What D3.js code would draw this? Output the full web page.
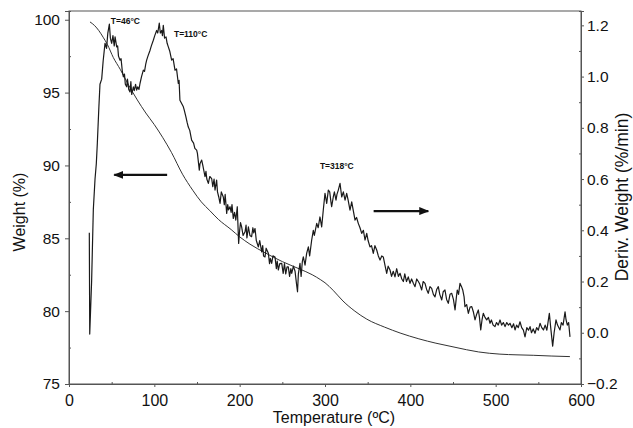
<!DOCTYPE html>
<html lang="en">
<head>
<meta charset="utf-8">
<script src="https://d3js.org/d3.v7.min.js"></script>
<style type="text/css">
body{
  margin: 0;
  padding: 0;
  background: white;
}
svg text{
  font-family: "Liberation Sans", Arial, sans-serif;
  fill: #111;
}
.tick-label{
  font-size: 15.5px;
}
.axis-title{
  font-size: 16px;
}
.note{
  font-size: 8.5px;
  font-weight: bold;
}
</style>
</head>
<body>
<div id="chart"></div>

<script type="text/javascript">

// Weight curve (TGA) : [temperature, weight %]
var tga = [
  [24.6, 99.85], [30, 99.6], [35, 99.25], [40, 98.8], [45, 98.3], [52, 97.4],
  [60, 96.6], [70, 95.5], [80, 94.5], [90, 93.6], [100, 92.8], [110, 91.9],
  [120, 90.9], [133, 89.4], [145, 88.3], [155, 87.5], [165, 86.9], [175, 86.3],
  [190, 85.6], [200, 85.1], [212, 84.6], [230, 84.0], [250, 83.4], [270, 82.9],
  [285, 82.5], [295, 82.15], [300, 81.95], [310, 81.4], [321, 80.7], [335, 80.0],
  [349, 79.45], [370, 78.9], [388, 78.5], [410, 78.1], [430, 77.8], [450, 77.55],
  [466, 77.35], [480, 77.2], [505, 77.05], [525, 77.0], [544, 76.97], [565, 76.92],
  [587, 76.88]
];

// Derivative weight curve (DTG) : [temperature, %/min]
var dtg = [
  [23.8, 0.39], [24.3, -0.005], [26.5, 0.20], [28.5, 0.48], [30.5, 0.60], [32, 0.66],
  [33.2, 0.74], [35, 0.88], [36.3, 0.97], [38.3, 0.99], [40, 1.06], [42.2, 1.13],
  [44, 1.11], [45.5, 1.17], [47.3, 1.205], [48.5, 1.15], [50, 1.13], [51.5, 1.16],
  [53, 1.12], [54, 1.155], [55.9, 1.116], [57, 1.12], [58, 1.08], [59.8, 1.064],
  [61, 1.07], [62.5, 1.02], [63.7, 0.999], [65, 1.01], [66, 0.97], [67.6, 0.96],
  [68.5, 0.99], [70, 0.95], [71.5, 0.94], [72.5, 0.98], [73.5, 0.93], [75.4, 0.96],
  [76.5, 0.945], [78, 0.97], [79.3, 0.947], [80.5, 0.96], [82, 0.95], [83.2, 0.973],
  [85, 1.00], [87.1, 1.025], [88.5, 1.02], [90, 1.05], [91, 1.064], [92.5, 1.08],
  [95, 1.103], [96.5, 1.12], [98.8, 1.142], [100.5, 1.16], [102.7, 1.18], [104, 1.17],
  [105.8, 1.209], [107, 1.17], [108.6, 1.18], [109.5, 1.16], [110.5, 1.2], [112, 1.15],
  [113.7, 1.155], [115, 1.13], [116.4, 1.116], [118, 1.10], [120.3, 1.064], [122, 1.07],
  [124.2, 1.025], [126, 1.03], [128.1, 0.973], [129, 0.985], [130, 0.908], [132, 0.895],
  [134, 0.882], [135, 0.87], [137, 0.843], [138.5, 0.82], [139.8, 0.803], [141.5, 0.79],
  [143.7, 0.752], [146, 0.74], [147.5, 0.72], [149.6, 0.713], [150.5, 0.70], [152.7, 0.635],
  [153.5, 0.66], [155.5, 0.674], [157, 0.65], [159.4, 0.609], [160.5, 0.63], [161.5, 0.60],
  [163.3, 0.583], [165, 0.61], [167.2, 0.602], [168.5, 0.57], [170, 0.60], [171.1, 0.557],
  [173, 0.596], [174, 0.55], [175.5, 0.53], [177, 0.505], [178.5, 0.55], [180.8, 0.53],
  [182, 0.50], [183, 0.54], [184.8, 0.466], [186, 0.50], [187, 0.48], [188.7, 0.492],
  [190, 0.47], [191, 0.50], [192.5, 0.446], [194, 0.47], [195.5, 0.44], [197.2, 0.492],
  [198.8, 0.349], [200, 0.40], [201, 0.43], [202.3, 0.413], [204, 0.38], [206.3, 0.394],
  [207.5, 0.42], [208.5, 0.37], [210.2, 0.413], [212, 0.38], [214, 0.375], [215.5, 0.41],
  [216.5, 0.39], [218, 0.407], [219.5, 0.36], [221.9, 0.335], [223.5, 0.36], [225.8, 0.316],
  [227, 0.34], [228, 0.30], [229.7, 0.296], [231, 0.33], [233.6, 0.31], [235, 0.27],
  [236, 0.29], [237.5, 0.271], [239, 0.30], [241.4, 0.296], [243, 0.25], [244, 0.28],
  [245.3, 0.245], [247, 0.27], [249.3, 0.271], [251, 0.232], [252.5, 0.27], [254, 0.23],
  [255.5, 0.257], [257, 0.257], [258.5, 0.22], [260, 0.25], [261, 0.232], [263, 0.26],
  [264.9, 0.24], [266.8, 0.186], [267.8, 0.16], [268.8, 0.23], [270.7, 0.271], [272, 0.22],
  [273.5, 0.28], [274.6, 0.296], [276.6, 0.264], [278.5, 0.31], [280.5, 0.335], [282, 0.30],
  [284.4, 0.362], [286.3, 0.40], [287.5, 0.38], [290.3, 0.427], [292, 0.41], [294.1, 0.452],
  [296.1, 0.413], [298, 0.479], [300, 0.544], [302, 0.505], [303.9, 0.557], [305.5, 0.55],
  [307, 0.51], [307.8, 0.492], [309.7, 0.53], [311, 0.55], [312.9, 0.518], [314, 0.54],
  [315.6, 0.557], [317.6, 0.583], [319.6, 0.53], [321.5, 0.55], [323.5, 0.518], [325.4, 0.544],
  [327, 0.52], [329.3, 0.479], [331.3, 0.511], [333, 0.48], [335.2, 0.44], [337, 0.45],
  [339, 0.427], [341, 0.41], [343, 0.388], [345, 0.40], [346.9, 0.362], [348.9, 0.388],
  [350.5, 0.36], [352.7, 0.335], [354.5, 0.34], [356.6, 0.31], [358.5, 0.34], [360.6, 0.323],
  [362.5, 0.30], [364.5, 0.284], [366.5, 0.30], [368.3, 0.296], [370.5, 0.26], [372.3, 0.232],
  [374, 0.26], [376.2, 0.245], [378, 0.22], [380, 0.24], [382, 0.218], [384, 0.25],
  [386, 0.22], [388, 0.232], [390, 0.21], [391.8, 0.2], [393.5, 0.23], [395.5, 0.20],
  [397.6, 0.218], [399.6, 0.193], [401.5, 0.21], [403.5, 0.193], [405.5, 0.18], [407.5, 0.21],
  [409.4, 0.2], [411, 0.19], [413.3, 0.167], [415, 0.20], [417.2, 0.193], [419, 0.17],
  [421, 0.154], [423, 0.18], [425, 0.173], [427, 0.15], [428.9, 0.14], [431, 0.17],
  [432.8, 0.18], [434.5, 0.15], [436.8, 0.128], [438.5, 0.16], [440.6, 0.167], [442.5, 0.13],
  [444.5, 0.115], [446.5, 0.15], [448.5, 0.154], [450.5, 0.13], [452.4, 0.089], [454, 0.14],
  [455, 0.167], [456.5, 0.15], [458.2, 0.193], [460, 0.18], [461.4, 0.167], [463, 0.14],
  [464, 0.102], [466, 0.11], [468, 0.076], [470, 0.10], [472, 0.102], [474, 0.08],
  [475.8, 0.05], [477.5, 0.07], [479.7, 0.089], [481, 0.06], [482.5, 0.011], [484, 0.05],
  [485.5, 0.076], [487.5, 0.06], [489.5, 0.05], [491.5, 0.06], [493.4, 0.037], [495, 0.05],
  [497, 0.03], [499.2, 0.024], [501, 0.04], [503, 0.03], [505.1, 0.05], [507, 0.03],
  [509, 0.04], [511, 0.024], [513, 0.04], [515, 0.03], [516.8, 0.037], [519, 0.02],
  [521, 0.035], [522.7, 0.011], [524.5, 0.03], [526.5, 0.02], [528.5, 0.043], [530.5, 0.02],
  [532.5, 0.01], [534.4, -0.016], [536.5, 0.02], [538.5, 0.01], [540.3, 0.024], [542, 0.00],
  [544, 0.015], [546.1, -0.002], [548, 0.02], [550, 0.01], [552, 0.037], [554, 0.02],
  [556, 0.011], [558, 0.03], [560, 0.01], [562.9, 0.076], [564.5, 0.02], [566.8, -0.052],
  [568.5, 0.00], [570.7, 0.05], [572.5, 0.03], [575.4, 0.011], [577, 0.04], [579, 0.03],
  [581.3, 0.082], [582.5, 0.05], [584, 0.03], [585.5, 0.04], [587.1, -0.016]
];

// tick values
var xTicks = [0, 100, 200, 300, 400, 500, 600];
var weightTicks = [75, 80, 85, 90, 95, 100];
var derivTicks = [-0.2, 0.0, 0.2, 0.4, 0.6, 0.8, 1.0, 1.2];

// peak labels [temperature, deriv value, text]
var peakNotes = [
  [49, 1.207, "T=46°C"], [123, 1.154, "T=110°C"], [294, 0.641, "T=318°C"]
];

function drawChart(){

  var width = 633;
  var height = 428;
  var left = 69, right = 581, top = 11, bottom = 384;

  var svg = d3.select("#chart")
    .append("svg")
    .attr("width", width)
    .attr("height", height);

  var x = d3.scaleLinear().domain([0, 600]).range([left, right]);
  var yW = d3.scaleLinear().domain([75, 100.6]).range([bottom, top]);
  var yD = d3.scaleLinear().domain([-0.2, 1.256]).range([bottom, top]);

  // frame
  svg.append("rect")
    .attr("x", left).attr("y", top)
    .attr("width", right - left).attr("height", bottom - top)
    .attr("fill", "none")
    .attr("stroke", "#555")
    .attr("stroke-width", 1);

  // bottom axis
  svg.append("g")
    .attr("class", "x-axis")
    .attr("transform", "translate(0," + bottom + ")")
    .call(d3.axisBottom(x).tickValues(xTicks).tickSize(3).tickPadding(8).tickFormat(d3.format("d")));
  svg.append("g")
    .attr("transform", "translate(0," + bottom + ")")
    .call(d3.axisTop(x).tickValues([50, 150, 250, 350, 450, 550]).tickSize(2).tickFormat(""));

  // left axis
  svg.append("g")
    .attr("transform", "translate(" + left + ",0)")
    .call(d3.axisLeft(yW).tickValues(weightTicks).tickSize(4).tickPadding(5).tickFormat(d3.format("d")));
  svg.append("g")
    .attr("transform", "translate(" + left + ",0)")
    .call(d3.axisRight(yW).tickValues([77.5, 82.5, 87.5, 92.5, 97.5]).tickSize(2).tickFormat(""));

  // right axis
  svg.append("g")
    .attr("transform", "translate(" + right + ",0)")
    .call(d3.axisRight(yD).tickValues(derivTicks).tickSize(3).tickPadding(3).tickFormat(d3.format(".1f")));
  svg.append("g")
    .attr("transform", "translate(" + right + ",0)")
    .call(d3.axisLeft(yD).tickValues([-0.1, 0.1, 0.3, 0.5, 0.7, 0.9, 1.1]).tickSize(2).tickFormat(""));

  svg.selectAll(".domain").attr("stroke", "#555");
  svg.selectAll(".tick line").attr("stroke", "#555");
  svg.selectAll(".tick text")
    .attr("class", "tick-label")
    .attr("font-family", null)
    .attr("font-size", null)
    .style("fill", "#111");
  svg.selectAll(".x-axis .tick text").style("font-size", "16px");

  // curves
  var tgaLine = d3.line()
    .curve(d3.curveMonotoneX)
    .x(function(d){ return x(d[0]); })
    .y(function(d){ return yW(d[1]); });

  var dtgLine = d3.line()
    .x(function(d){ return x(d[0]); })
    .y(function(d){ return yD(d[1]); });

  svg.append("path")
    .datum(tga)
    .attr("d", tgaLine)
    .attr("fill", "none")
    .attr("stroke", "#333")
    .attr("stroke-width", 1);

  svg.append("path")
    .datum(dtg)
    .attr("d", dtgLine)
    .attr("fill", "none")
    .attr("stroke", "#1a1a1a")
    .attr("stroke-width", 1.2)
    .attr("stroke-linejoin", "round");

  // arrows
  var defs = svg.append("defs");
  defs.append("marker")
    .attr("id", "head")
    .attr("viewBox", "0 0 10 8")
    .attr("refX", 9).attr("refY", 4)
    .attr("markerWidth", 10).attr("markerHeight", 8)
    .attr("markerUnits", "userSpaceOnUse")
    .attr("orient", "auto")
    .append("path")
    .attr("d", "M0,0 L10,4 L0,8 Z")
    .attr("fill", "#111");

  // left arrow points to the weight axis, right arrow to the derivative axis
  svg.append("line")
    .attr("x1", x(115)).attr("x2", x(53))
    .attr("y1", yW(89.35)).attr("y2", yW(89.35))
    .attr("stroke", "#111").attr("stroke-width", 2.2)
    .attr("marker-end", "url(#head)");

  svg.append("line")
    .attr("x1", x(357)).attr("x2", x(421))
    .attr("y1", yD(0.475)).attr("y2", yD(0.475))
    .attr("stroke", "#111").attr("stroke-width", 2.2)
    .attr("marker-end", "url(#head)");

  // peak labels
  svg.selectAll(".note")
    .data(peakNotes)
    .enter()
    .append("text")
    .attr("class", "note")
    .attr("x", function(d){ return x(d[0]); })
    .attr("y", function(d){ return yD(d[1]); })
    .text(function(d){ return d[2]; });

  // axis titles
  svg.append("text")
    .attr("class", "axis-title")
    .attr("text-anchor", "middle")
    .attr("x", 334)
    .attr("y", 423)
    .text("Temperature (ºC)");

  svg.append("text")
    .attr("class", "axis-title")
    .attr("text-anchor", "middle")
    .attr("transform", "translate(25,212) rotate(-90)")
    .text("Weight (%)");

  svg.append("text")
    .attr("class", "axis-title")
    .attr("text-anchor", "middle")
    .style("font-size", "17.5px")
    .attr("transform", "translate(628,197) rotate(-90)")
    .text("Deriv. Weight (%/min)");
}

drawChart();

</script>
</body>
</html>
